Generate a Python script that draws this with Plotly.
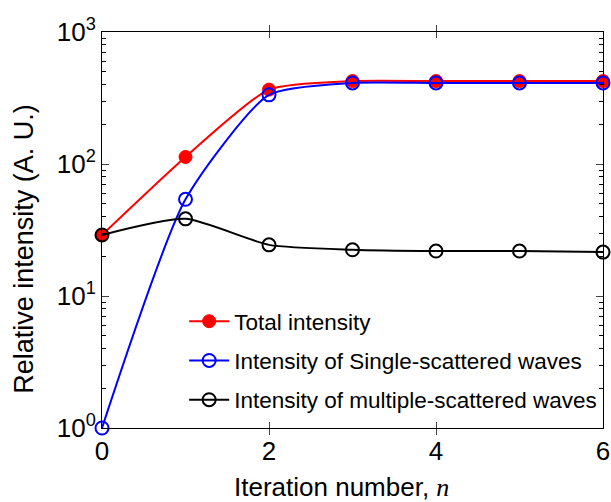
import plotly.graph_objects as go

# Iteration index
iterations = [0, 1, 2, 3, 4, 5, 6]

# Relative intensity per iteration (A. U.)
total_intensity = [29, 113, 366, 425, 425, 425, 425]
single_scattered = [1.0, 54, 334, 411, 411, 411, 411]
multiple_scattered = [29, 38.4, 24.4, 22.4, 21.9, 21.9, 21.5]

y_tick_vals = [1, 10, 100, 1000]
y_tick_text = ["10<sup>0</sup>", "10<sup>1</sup>", "10<sup>2</sup>", "10<sup>3</sup>"]
x_tick_vals = [0, 2, 4, 6]

# minor ticks at 2..9 of each decade
y_minor_vals = [m * d for d in (1, 10, 100) for m in range(2, 10)]

FONT = "Liberation Sans, Arial, sans-serif"

fig = go.Figure()

fig.add_trace(go.Scatter(
    x=iterations, y=total_intensity, name="Total intensity", legendgroup="a",
    mode="lines+markers", cliponaxis=False,
    line=dict(color="#ff0000", width=2, shape="spline", smoothing=0.6),
    marker=dict(symbol="circle", size=13, color="#ff0000", line=dict(color="#ff0000", width=1)),
))
fig.add_trace(go.Scatter(
    x=iterations, y=single_scattered, name="Intensity of Single-scattered waves", legendgroup="b",
    mode="lines+markers", cliponaxis=False,
    line=dict(color="#0000ff", width=2, shape="spline", smoothing=0.6),
    marker=dict(symbol="circle-open", size=13, color="#0000ff", line=dict(width=2)),
))
fig.add_trace(go.Scatter(
    x=iterations, y=multiple_scattered, name="Intensity of multiple-scattered waves", legendgroup="c",
    mode="lines+markers", cliponaxis=False,
    line=dict(color="#000000", width=2, shape="spline", smoothing=0.6),
    marker=dict(symbol="circle-open", size=13, color="#000000", line=dict(width=2)),
))
# empty trace so the companion minor-tick axis gets drawn
fig.add_trace(go.Scatter(x=[], y=[], yaxis="y2", showlegend=False, hoverinfo="skip"))

fig.update_layout(
    width=611, height=502,
    margin=dict(l=102, r=8, t=32, b=74),
    paper_bgcolor="white", plot_bgcolor="white",
    font=dict(family=FONT, color="black"),
    showlegend=True,
    legend=dict(
        x=0.164, y=0.323, xanchor="left", yanchor="top",
        bgcolor="rgba(0,0,0,0)", borderwidth=0,
        font=dict(size=22.5, family=FONT), tracegroupgap=7,
        itemwidth=40,
    ),
    xaxis=dict(
        range=[0, 6], tickvals=x_tick_vals, ticks="inside", ticklen=6,
        showline=True, linecolor="black", linewidth=1, mirror="allticks",
        showgrid=False, zeroline=False, automargin=False,
        tickfont=dict(size=26),
    ),
    yaxis=dict(
        type="log", range=[0, 3], tickvals=y_tick_vals, ticktext=y_tick_text,
        ticks="inside", ticklen=7,
        showline=True, linecolor="black", linewidth=1, mirror="allticks",
        showgrid=False, zeroline=False, automargin=False,
        tickfont=dict(size=26),
    ),
    # companion axis carrying the short minor ticks of each decade
    yaxis2=dict(
        type="log", range=[0, 3], overlaying="y", side="left",
        tickvals=y_minor_vals, ticktext=[""] * len(y_minor_vals),
        ticks="inside", ticklen=4, tickcolor="black", tickwidth=1,
        showline=False, mirror="ticks", showgrid=False, zeroline=False,
        automargin=False, showticklabels=False,
    ),
    annotations=[
        dict(text="Relative intensity (A. U.)", xref="paper", yref="paper",
             x=-0.156, y=0.452, xanchor="center", yanchor="middle", textangle=-90,
             showarrow=False, font=dict(size=27)),
        dict(text="Iteration number, <span style='font-family:Liberation Serif;font-style:italic'>n</span>",
             xref="paper", yref="paper", x=0.478, y=-0.149, xanchor="center", yanchor="middle",
             showarrow=False, font=dict(size=26)),
    ],
)

fig.write_html("out.html")
